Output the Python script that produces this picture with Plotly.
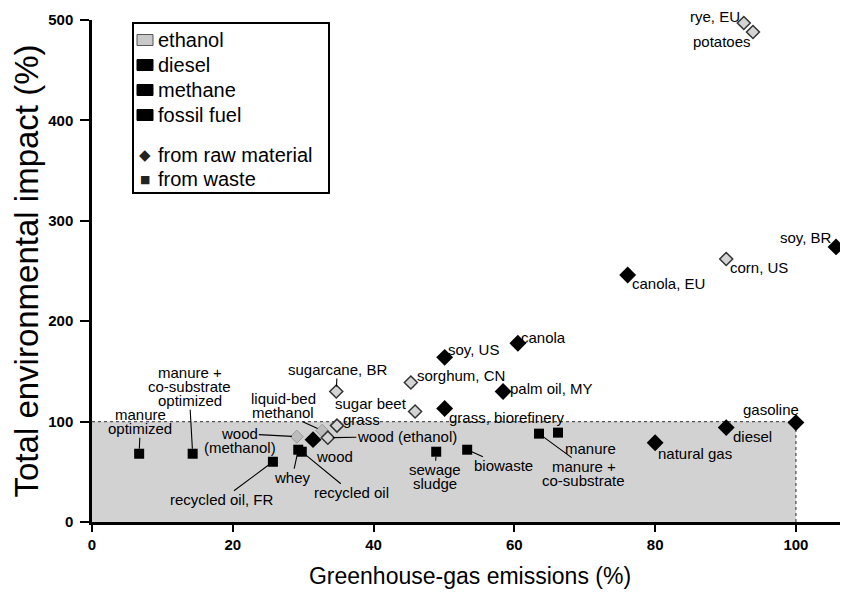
import plotly.graph_objects as go

# ---------------- data ----------------
ethanol_names = ["rye, EU", "potatoes", "corn, US", "sugarcane, BR", "sorghum, CN",
                 "sugar beet", "grass", "wood (ethanol)"]
ethanol_ghg = [92.6, 93.9, 90.1, 34.7, 45.3, 45.9, 34.8, 33.5]
ethanol_impact = [497, 488, 262, 130, 139, 110, 96, 84]

methanol_names = ["liquid-bed methanol", "wood (methanol)"]
methanol_ghg = [32.7, 29.1]
methanol_impact = [91, 85]

diesel_names = ["soy, BR", "canola, EU", "canola", "soy, US", "palm oil, MY", "wood"]
diesel_ghg = [105.7, 76.1, 60.5, 50.1, 58.4, 31.4]
diesel_impact = [274, 246, 178, 164, 130, 82]

methane_names = ["grass, biorefinery"]
methane_ghg = [50.1]
methane_impact = [113]

fossil_names = ["gasoline", "diesel", "natural gas"]
fossil_ghg = [100.0, 90.1, 80.0]
fossil_impact = [99, 94, 79]

waste_names = ["manure optimized", "manure + co-substrate optimized", "recycled oil, FR",
               "whey", "recycled oil", "sewage sludge", "biowaste",
               "manure + co-substrate", "manure"]
waste_ghg = [6.7, 14.3, 25.7, 29.3, 29.8, 48.9, 53.3, 63.5, 66.2]
waste_impact = [68, 68, 60, 72, 70, 70, 72, 88, 89]

x_ticks = [0, 20, 40, 60, 80, 100]
y_ticks = [0, 100, 200, 300, 400, 500]
legend_fuels = ["ethanol", "diesel", "methane", "fossil fuel"]
legend_sources = ["from raw material", "from waste"]

# ---------------- label layout (text lines, pixel offset, leader) ----------------
LABELS = {
    "rye, EU": (["rye, EU"], -29, -7, False),
    "potatoes": (["potatoes"], -31, 9, False),
    "corn, US": (["corn, US"], 33, 9, False),
    "sugarcane, BR": (["sugarcane, BR"], 1, -22, True),
    "sorghum, CN": (["sorghum, CN"], 50, -7, False),
    "sugar beet": (["sugar beet"], -44, -8, False),
    "grass": (["grass"], 25, -6, False),
    "wood (ethanol)": (["wood (ethanol)"], 79, -1, True),
    "liquid-bed methanol": (["liquid-bed", "methanol"], -39, -25, True),
    "wood (methanol)": (["wood", "(methanol)"], -57, 4, True),
    "soy, BR": (["soy, BR"], -30, -9, False),
    "canola, EU": (["canola, EU"], 41, 8, False),
    "canola": (["canola"], 26, -6, False),
    "soy, US": (["soy, US"], 29, -8, False),
    "palm oil, MY": (["palm oil, MY"], 48, -3, False),
    "wood": (["wood"], 21, 17, False),
    "grass, biorefinery": (["grass, biorefinery"], 62, 9, False),
    "gasoline": (["gasoline"], -25, -13, False),
    "diesel": (["diesel"], 26, 9, False),
    "natural gas": (["natural gas"], 40, 11, False),
    "manure optimized": (["manure", "optimized"], 1, -32, True),
    "manure + co-substrate optimized": (["manure +", "co-substrate", "optimized"], -3, -67, True),
    "recycled oil, FR": (["recycled oil, FR"], -51, 38, True),
    "whey": (["whey"], -6, 28, True),
    "recycled oil": (["recycled oil"], 50, 41, True),
    "sewage sludge": (["sewage", "sludge"], -1, 25, True),
    "biowaste": (["biowaste"], 36, 16, True),
    "manure + co-substrate": (["manure +", "co-substrate"], 45, 40, True),
    "manure": (["manure"], 33, 16, True),
}

FONT = "Arial, Liberation Sans, Helvetica, sans-serif"
PAGE_OFF = 8                     # default body margin of the html page
W, H = 848 - PAGE_OFF, 598 - PAGE_OFF
ML, MR, MT, MB = 92 - PAGE_OFF, 0, 20 - PAGE_OFF, 76
XMAX = 107.4
LINE = 14

fig = go.Figure()

# grey reference box (fossil = 100 %)
fig.add_shape(type="rect", xref="x", yref="y", x0=0, x1=100, y0=0, y1=100,
              fillcolor="#d2d2d2", line=dict(width=0), layer="below")
fig.add_shape(type="line", xref="x", yref="y", x0=0, x1=100, y0=100, y1=100,
              line=dict(color="#555", width=1.3, dash="dot"), layer="below")
fig.add_shape(type="line", xref="x", yref="y", x0=100, x1=100, y0=0, y1=100,
              line=dict(color="#555", width=1.3, dash="dot"), layer="below")

light = dict(symbol="diamond", size=10, color="#d4d4d4", line=dict(color="#333", width=1.5))
faint = dict(symbol="diamond", size=10, color="#bcbcbc", line=dict(color="#999", width=1))
dark = dict(symbol="diamond", size=13, color="black", line=dict(color="black", width=0))
sq = dict(symbol="square", size=10, color="black", line=dict(color="black", width=0))

series = [
    (methanol_names, methanol_ghg, methanol_impact, faint),
    (ethanol_names, ethanol_ghg, ethanol_impact, light),
    (diesel_names, diesel_ghg, diesel_impact, dark),
    (methane_names, methane_ghg, methane_impact, dark),
    (fossil_names, fossil_ghg, fossil_impact, dark),
    (waste_names, waste_ghg, waste_impact, sq),
]
for names, xs, ys, mk in series:
    fig.add_trace(go.Scatter(x=xs, y=ys, mode="markers", marker=mk, text=names,
                             hoverinfo="text+x+y", showlegend=False, cliponaxis=False))

# point labels
for names, xs, ys, mk in series:
    for n, xv, yv in zip(names, xs, ys):
        lines, ax, ay, leader = LABELS[n]
        k = len(lines)
        offs = [ay + (i - (k - 1) / 2) * LINE for i in range(k)]
        lead_i = min(range(k), key=lambda i: abs(offs[i]))
        for i, (ln, oy) in enumerate(zip(lines, offs)):
            show = leader and i == lead_i
            fig.add_annotation(x=xv, y=yv, xref="x", yref="y", text=ln,
                               showarrow=True, ax=ax, ay=oy,
                               arrowhead=0, arrowwidth=1.1,
                               arrowcolor="black" if show else "rgba(0,0,0,0)",
                               standoff=5, borderpad=0,
                               font=dict(family=FONT, size=15, color="black"))

# ---------------- custom legend (page pixel positions) ----------------
def px_x(p):
    return (p - PAGE_OFF - ML) / (W - ML - MR)

def px_y(p):
    return (H - MB - (p - PAGE_OFF)) / (H - MT - MB)

fig.add_shape(type="rect", xref="paper", yref="paper",
              x0=px_x(133), x1=px_x(329), y0=px_y(193), y1=px_y(23),
              line=dict(color="black", width=2), fillcolor="white", layer="above")
legend_rows = [40, 65, 90, 115]
for name, yr in zip(legend_fuels, legend_rows):
    fill = "#c9c9c9" if name == "ethanol" else "black"
    edge = "#555" if name == "ethanol" else "black"
    fig.add_shape(type="rect", xref="paper", yref="paper",
                  x0=px_x(137), x1=px_x(153), y0=px_y(yr + 5.5), y1=px_y(yr - 5.5),
                  fillcolor=fill, line=dict(color=edge, width=1), layer="above")
    fig.add_annotation(x=px_x(156), y=px_y(yr), xref="paper", yref="paper", text=name,
                       xanchor="left", yanchor="middle", showarrow=False,
                       font=dict(family=FONT, size=20, color="black"))
for name, yr, glyph, gs in zip(legend_sources, [155, 179], ["◆", "■"], [15, 11]):
    fig.add_annotation(x=px_x(145), y=px_y(yr), xref="paper", yref="paper", text=glyph,
                       xanchor="center", yanchor="middle", showarrow=False,
                       font=dict(family="DejaVu Sans", size=gs, color="#222"))
    fig.add_annotation(x=px_x(156), y=px_y(yr), xref="paper", yref="paper", text=name,
                       xanchor="left", yanchor="middle", showarrow=False,
                       font=dict(family=FONT, size=20, color="black"))

fig.update_layout(
    width=W, height=H,
    margin=dict(l=ML, r=MR, t=MT, b=MB),
    paper_bgcolor="white", plot_bgcolor="white",
    showlegend=False,
    xaxis=dict(range=[0, XMAX], tickvals=x_ticks, ticktext=[str(v) for v in x_ticks],
               automargin=False,
               showgrid=False, zeroline=False, showline=True, linecolor="black",
               linewidth=2.5, ticks="outside", ticklen=7, tickwidth=2, tickcolor="black",
               tickfont=dict(family=FONT, size=15, color="black", weight="bold"),
               title=dict(text="Greenhouse-gas emissions (%)", standoff=17,
                          font=dict(family=FONT, size=23, color="black"))),
    yaxis=dict(range=[0, 500], tickvals=y_ticks, ticktext=[str(v) for v in y_ticks],
               automargin=False,
               showgrid=False, zeroline=False, showline=True, linecolor="black",
               linewidth=2.5, ticks="outside", ticklen=9, tickwidth=2, tickcolor="black",
               ticklabelstandoff=4,
               tickfont=dict(family=FONT, size=15, color="black", weight="bold"),
               title=dict(text="Total environmental impact (%)", standoff=8,
                          font=dict(family=FONT, size=33, color="black"))),
)

fig.write_html("out.html")
